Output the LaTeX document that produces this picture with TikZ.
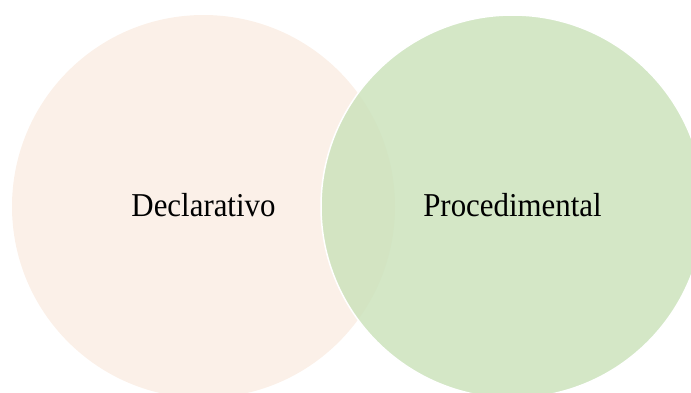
\documentclass[tikz,border=0pt]{standalone}
\usepackage{fontspec}
\setmainfont{Liberation Serif}
\usepackage{xcolor}
\usepackage{tikz}
\definecolor{beige}{RGB}{251,240,232}
\definecolor{leaf}{RGB}{204,227,188}
\tikzset{label text/.style={font=\fontsize{31}{36}\selectfont, anchor=base, inner sep=0pt, yscale=1.08}}

\begin{document}
\begin{tikzpicture}[x=1bp,y=-1bp]
			\useasboundingbox (0,0) rectangle (691,392);
			\clip (0,0) rectangle (691,392);
			\fill[beige] (203.5,206.5) circle (191.5);
			\filldraw[fill=leaf, fill opacity=0.85, draw=white, line width=1.5bp] (512.5,206.5) circle (191.5);
			\node[label text, transform shape] (decl) at (203.5,216) {Declarativo};
			\node[label text, transform shape] (proc) at (512.5,216) {Procedimental};
		\end{tikzpicture}
\end{document}
